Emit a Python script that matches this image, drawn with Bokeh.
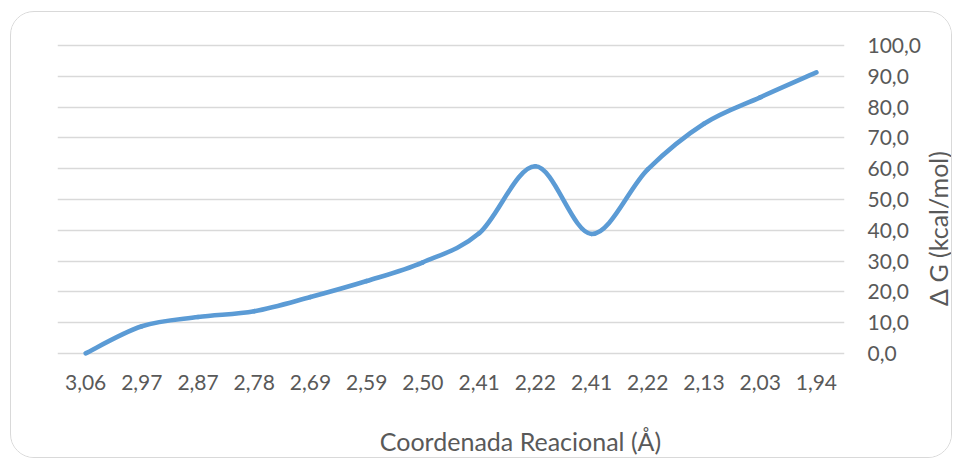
import numpy as np
from bokeh.plotting import figure
from bokeh.models import FixedTicker, CustomJSTickFormatter, Range1d, Label
from bokeh.embed import file_html
from bokeh.resources import INLINE

# ---- data ----
categories = ["3,06", "2,97", "2,87", "2,78", "2,69", "2,59", "2,50",
              "2,41", "2,22", "2,41", "2,22", "2,13", "2,03", "1,94"]
delta_g = [0.0, 8.8, 11.8, 13.7, 18.3, 23.5, 29.6,
           39.0, 60.8, 38.8, 59.8, 74.6, 83.2, 91.3]
y_ticks = [0, 10, 20, 30, 40, 50, 60, 70, 80, 90, 100]
x_title = "Coordenada Reacional (Å)"
y_title = "Δ G (kcal/mol)"

FONT = "Lato"
TXT = "#595959"
LINE = "#5b9bd5"
GRID = "#d9d9d9"

W, H = 942, 447
p = figure(width=W, height=H, output_backend="svg", toolbar_location=None,
           x_range=Range1d(-0.5, len(categories) - 0.5),
           y_range=Range1d(-2, 102),
           min_border_left=46, min_border_right=106,
           min_border_top=27, min_border_bottom=100,
           x_axis_location="below", y_axis_location="right")
p.margin = (11, 0, 0, 10)
p.styles = {"border": "1px solid #d9d9d9", "border-radius": "24px", "overflow": "hidden"}
p.outline_line_color = None
p.background_fill_color = "white"
p.border_fill_color = "white"

# smooth (Excel-like Catmull-Rom) curve through the data points
xs = np.arange(len(delta_g), dtype=float)
ys = np.array(delta_g, dtype=float)
xp = np.concatenate([[xs[0]], xs, [xs[-1]]])
yp = np.concatenate([[ys[0]], ys, [ys[-1]]])
x0, y0 = xs[:-1], ys[:-1]
x1, y1 = xs[1:], ys[1:]
cx0 = x0 + (xp[2:-1] - xp[:-3]) / 6.0
cy0 = y0 + (yp[2:-1] - yp[:-3]) / 6.0
cx1 = x1 - (xp[3:] - xp[1:-2]) / 6.0
cy1 = y1 - (yp[3:] - yp[1:-2]) / 6.0
p.bezier(x0=x0, y0=y0, x1=x1, y1=y1, cx0=cx0, cy0=cy0, cx1=cx1, cy1=cy1,
         line_color=LINE, line_width=4.6, line_cap="round")

# axes
xa = p.xaxis[0]
xa.ticker = FixedTicker(ticks=list(range(len(categories))))
xa.formatter = CustomJSTickFormatter(args=dict(labels=categories),
                                     code="return labels[Math.round(tick)] || '';")
ya = p.yaxis[0]
ya.ticker = FixedTicker(ticks=y_ticks)
ya.formatter = CustomJSTickFormatter(code="return tick.toFixed(1).replace('.', ',');")
for ax in (xa, ya):
    ax.axis_line_color = None
    ax.major_tick_line_color = None
    ax.minor_tick_line_color = None
    ax.major_tick_out = 0
    ax.major_tick_in = 0
    ax.major_label_text_font = FONT
    ax.major_label_text_font_size = "21px"
    ax.major_label_text_color = TXT
xa.major_label_standoff = 15
ya.major_label_standoff = 23

p.xgrid.grid_line_color = None
p.ygrid.ticker = FixedTicker(ticks=y_ticks)
p.ygrid.grid_line_color = GRID
p.ygrid.grid_line_width = 1.3

# axis titles as labels in side panels (canvas units: origin at top-left)
p.add_layout(Label(x=508, y=427, x_units="canvas", y_units="canvas",
                   text=x_title, text_font=FONT, text_font_size="25px",
                   text_color=TXT, text_align="center", text_baseline="middle"),
             "below")
p.add_layout(Label(x=925, y=215, x_units="canvas", y_units="canvas",
                   text=y_title, text_font=FONT, text_font_size="25px",
                   text_color=TXT, text_align="center", text_baseline="middle",
                   angle=np.pi / 2), "right")

open("out.html", "w").write(file_html(p, INLINE))
